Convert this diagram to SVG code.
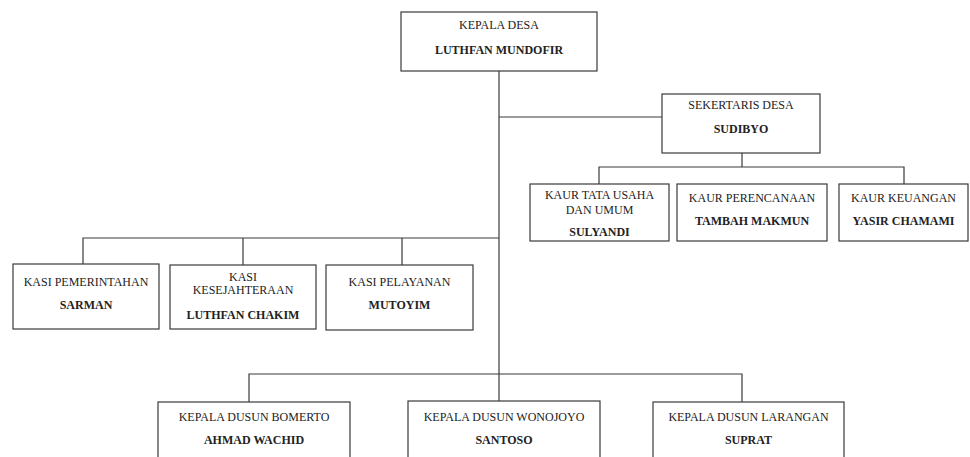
<svg xmlns="http://www.w3.org/2000/svg" width="970" height="457" viewBox="0 0 970 457">
<style>
.box{fill:#fff;stroke:#3a3a3a;stroke-width:1.2}
.ln{fill:none;stroke:#3a3a3a;stroke-width:1.2}
text{font-family:"Liberation Serif","Times New Roman",serif;font-size:12px;fill:#222;text-anchor:middle}
.b{font-weight:bold}
</style>
<rect width="970" height="457" fill="#fff"/>
<g id="connectors">
<path class="ln" d="M499 71V401"/>
<path class="ln" d="M499 117H662"/>
<path class="ln" d="M742 153V167"/>
<path class="ln" d="M599 184V167H904V184"/>
<path class="ln" d="M83 264V238H499"/>
<path class="ln" d="M243 238V265"/>
<path class="ln" d="M402 238V265"/>
<path class="ln" d="M249 402V374H742V402"/>
</g>
<g id="kepala-desa"><rect class="box" x="401" y="12" width="196" height="59"/><text x="499" y="29">KEPALA DESA</text><text class="b" x="499" y="54">LUTHFAN MUNDOFIR</text></g>
<g id="sekertaris-desa"><rect class="box" x="662" y="94" width="158" height="59"/><text x="741" y="109">SEKERTARIS DESA</text><text class="b" x="741" y="133">SUDIBYO</text></g>
<g id="kaur-tata-usaha"><rect class="box" x="530" y="184" width="139" height="57"/><text x="599.5" y="199">KAUR TATA USAHA</text><text x="599.5" y="214">DAN UMUM</text><text class="b" x="599.5" y="236">SULYANDI</text></g>
<g id="kaur-perencanaan"><rect class="box" x="677" y="184" width="150" height="57"/><text x="752" y="202">KAUR PERENCANAAN</text><text class="b" x="752" y="225">TAMBAH MAKMUN</text></g>
<g id="kaur-keuangan"><rect class="box" x="839" y="184" width="129" height="57"/><text x="903.5" y="202">KAUR KEUANGAN</text><text class="b" x="903.5" y="225">YASIR CHAMAMI</text></g>
<g id="kasi-pemerintahan"><rect class="box" x="13" y="264" width="146" height="65"/><text x="86" y="286">KASI PEMERINTAHAN</text><text class="b" x="86" y="309">SARMAN</text></g>
<g id="kasi-kesejahteraan"><rect class="box" x="170" y="265" width="146" height="64"/><text x="243" y="281">KASI</text><text x="243" y="294">KESEJAHTERAAN</text><text class="b" x="243" y="319">LUTHFAN CHAKIM</text></g>
<g id="kasi-pelayanan"><rect class="box" x="326" y="265" width="147" height="65"/><text x="399.5" y="286">KASI PELAYANAN</text><text class="b" x="399.5" y="309">MUTOYIM</text></g>
<g id="kadus-bomerto"><rect class="box" x="158" y="402" width="192" height="70"/><text x="254" y="421">KEPALA DUSUN BOMERTO</text><text class="b" x="254" y="444">AHMAD WACHID</text></g>
<g id="kadus-wonojoyo"><rect class="box" x="408" y="401" width="192" height="70"/><text x="504" y="421">KEPALA DUSUN WONOJOYO</text><text class="b" x="504" y="444">SANTOSO</text></g>
<g id="kadus-larangan"><rect class="box" x="653" y="402" width="191" height="70"/><text x="748.5" y="421">KEPALA DUSUN LARANGAN</text><text class="b" x="748.5" y="444">SUPRAT</text></g>
</svg>
